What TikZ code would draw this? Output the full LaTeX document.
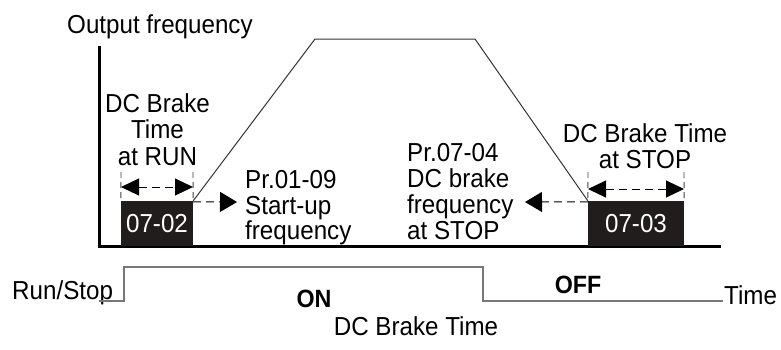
\documentclass[tikz,border=0pt]{standalone}
\usepackage{fontspec}
\setmainfont[FakeStretch=0.93]{Liberation Sans}
\usetikzlibrary{arrows.meta}
\definecolor{boxfill}{RGB}{33,29,28}
\definecolor{siggray}{RGB}{120,120,120}
\begin{document}
\begin{tikzpicture}[x=1pt,y=-1pt,
  lbl/.style={inner sep=0pt,font=\fontsize{26}{26.5}\selectfont},
  bold/.style={inner sep=0pt,font=\fontsize{25}{26}\selectfont\bfseries},
  parbox/.style={draw=none,fill=boxfill,text=white,minimum width=72pt,minimum height=45pt,inner sep=0pt,font=\fontsize{26}{26}\selectfont},
  axis/.style={line width=3pt,black},
  ramp/.style={line width=1pt,black!80},
  dimtick/.style={line width=0.9pt,black!75,dash pattern=on 6pt off 4pt},
  dimarrow/.style={line width=1pt,black,dash pattern=on 8pt off 5pt,{Triangle[length=18pt,width=17pt]}-{Triangle[length=18pt,width=17pt]}},
  ptrarrow/.style={line width=1pt,black,dash pattern=on 8pt off 5pt,-{Triangle[length=17pt,width=20pt]}},
  sig/.style={line width=1.2pt,siggray}]
\useasboundingbox (0,0) rectangle (781,349);

% axes
\coordinate (ytop) at (99,46);
\coordinate (orig) at (99,246);
\coordinate (xend) at (721,246);
\draw[axis] (ytop) -- (orig) -- (xend);

% boxes
\node[parbox] (b1) at (157,223.5) {07-02};
\node[parbox,minimum width=96pt] (b2) at (636,223.5) {07-03};

% trapezoid
\coordinate (t1) at (315,39);
\coordinate (t2) at (475,39);
\draw[ramp] (b1.north east) -- (t1) -- (t2) -- (b2.north west);

% dimension ticks
\coordinate (l1) at (121,172);
\coordinate (l2) at (193,172);
\coordinate (r1) at (588,172);
\coordinate (r2) at (684,172);
\draw[dimtick] (l1) -- (b1.north west);
\draw[dimtick] (l2) -- (b1.north east);
\draw[dimtick] (r1) -- (b2.north west);
\draw[dimtick] (r2) -- (b2.north east);
\draw[dimarrow] (121,187) -- (193,187);
\draw[dimarrow] (588,189) -- (684,189);

% pointer arrows
\coordinate (pa) at (237,202);
\coordinate (pb) at (525,202);
\draw[ptrarrow] ([yshift=-1pt]b1.north east) -- (pa);
\draw[ptrarrow] ([yshift=-1pt]b2.north west) -- (pb);

% texts
\node[lbl,anchor=base west] (of) at (67,33) {Output frequency};
\node[lbl,anchor=north,align=center,font=\fontsize{26}{26.5}\selectfont] (dcrun) at (157.5,93) {DC Brake\\Time\\at RUN};
\node[lbl,anchor=north west,align=left,font=\fontsize{26}{25.8}\selectfont] (su) at (245,170) {Pr.01-09\\Start-up\\frequency};
\node[lbl,anchor=north west,align=left,font=\fontsize{26}{26}\selectfont] (bf) at (407,143) {Pr.07-04\\DC brake\\frequency\\at STOP};
\node[lbl,anchor=north,align=center,font=\fontsize{26}{26}\selectfont] (dcstop) at (645,123) {DC Brake Time\\at STOP};

% run/stop signal
\node[lbl,anchor=base west] (rs) at (12,299) {Run/Stop};
\coordinate (s0) at (99,301);
\coordinate (s1) at (124,301);
\coordinate (s2) at (124,267);
\coordinate (s3) at (483,267);
\coordinate (s4) at (483,301);
\coordinate (s5) at (723,301);
\draw[sig] (s0) -- (s1) -- (s2) -- (s3) -- (s4) -- (s5);
\node[lbl,anchor=base west] (tm) at (724,304) {Time};
\node[bold,anchor=base] (on) at (314,307) {ON};
\node[bold,anchor=base] (off) at (578,293) {OFF};
\node[lbl,anchor=base] (dbt) at (416,335) {DC Brake Time};
\end{tikzpicture}
\end{document}
